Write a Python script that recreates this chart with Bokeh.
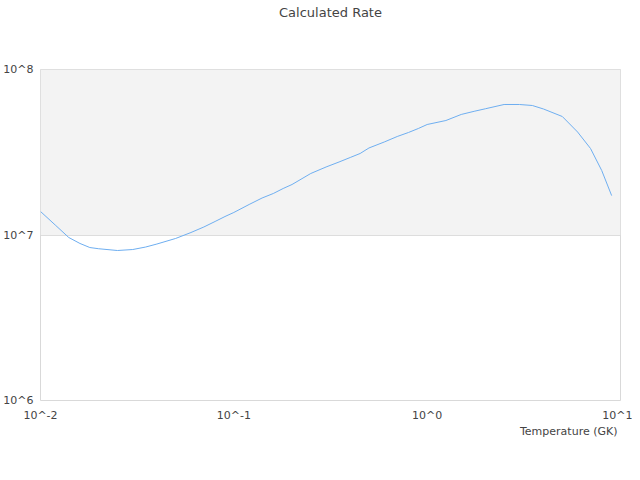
from bokeh.plotting import figure
from bokeh.models import Range1d, FixedTicker, BoxAnnotation, Title
from bokeh.embed import file_html
from bokeh.resources import INLINE

temperature = [0.01, 0.012, 0.014, 0.016, 0.018, 0.02, 0.025, 0.03, 0.035, 0.04,
               0.05, 0.06, 0.07, 0.08, 0.09, 0.1, 0.12, 0.14, 0.16, 0.18, 0.2,
               0.25, 0.3, 0.35, 0.4, 0.45, 0.5, 0.6, 0.7, 0.8, 0.9, 1.0, 1.25,
               1.5, 1.75, 2.0, 2.5, 3.0, 3.5, 4.0, 5.0, 6.0, 7.0, 8.0, 9.0]
rate = [1.387e7, 1.141e7, 9.66e6, 8.89e6, 8.40e6, 8.26e6, 8.06e6, 8.17e6, 8.46e6, 8.82e6,
        9.53e6, 1.035e7, 1.118e7, 1.207e7, 1.293e7, 1.368e7, 1.529e7, 1.673e7, 1.781e7, 1.910e7, 2.019e7,
        2.353e7, 2.576e7, 2.761e7, 2.940e7, 3.108e7, 3.356e7, 3.647e7, 3.937e7, 4.162e7, 4.400e7, 4.652e7, 4.918e7,
        5.35e7, 5.59e7, 5.79e7, 6.145e7, 6.145e7, 6.06e7, 5.77e7, 5.20e7, 4.19e7, 3.33e7, 2.45e7, 1.73e7]

x_ticks = [0.01, 0.1, 1.0, 10.0]
x_tick_labels = ["10^-2", "10^-1", "10^0", "10^1"]
y_ticks = [1e6, 1e7, 1e8]
y_tick_labels = ["10^6", "10^7", "10^8"]
band_bottom, band_top = 1e7, 1e8
title_text = "Calculated Rate"
x_label_text = "Temperature (GK)"

FONT = "DejaVu Sans"
TXT = "#444444"

p = figure(x_axis_type="log", y_axis_type="log",
           x_range=Range1d(0.01, 10), y_range=Range1d(1e6, 1e8),
           frame_width=580, frame_height=331,
           min_border_left=32, min_border_right=12, min_border_top=69, min_border_bottom=72,
           output_backend="svg", toolbar_location=None)
p.title = None

spacer = Title(text=" ", align="center", text_font=FONT, text_font_size="11px",
               text_font_style="normal", text_color=TXT, standoff=32)
main_title = Title(text=title_text, align="center", text_font=FONT, text_font_size="13px",
                   text_font_style="normal", text_color=TXT, standoff=5)
p.add_layout(spacer, "above")
p.add_layout(main_title, "above")

p.add_layout(BoxAnnotation(bottom=band_bottom, top=band_top, fill_color="#f3f3f3",
                           fill_alpha=1.0, line_color=None, level="underlay"))

p.line(temperature, rate, line_color="#6eaef0", line_width=1)

p.outline_line_color = "#d9d9d9"
p.xgrid.grid_line_color = None
p.ygrid.grid_line_color = "#dddddd"
p.ygrid.ticker = FixedTicker(ticks=y_ticks)

for ax in (p.xaxis[0], p.yaxis[0]):
    ax.axis_line_color = None
    ax.major_tick_line_color = None
    ax.minor_tick_line_color = None
    ax.major_label_text_font = FONT
    ax.major_label_text_font_size = "11px"
    ax.major_label_text_color = TXT

p.xaxis[0].ticker = FixedTicker(ticks=x_ticks)
p.xaxis[0].major_label_overrides = dict(zip(x_ticks, x_tick_labels))
p.xaxis[0].major_label_standoff = 2
p.yaxis[0].ticker = FixedTicker(ticks=y_ticks)
p.yaxis[0].major_label_overrides = dict(zip(y_ticks, y_tick_labels))
p.yaxis[0].major_label_standoff = 1

xl = Title(text=x_label_text, align="right", text_font=FONT, text_font_size="11px",
           text_font_style="normal", text_color=TXT, standoff=-3, offset=3)
p.add_layout(xl, "below")

open("out.html", "w").write(file_html(p, INLINE))
